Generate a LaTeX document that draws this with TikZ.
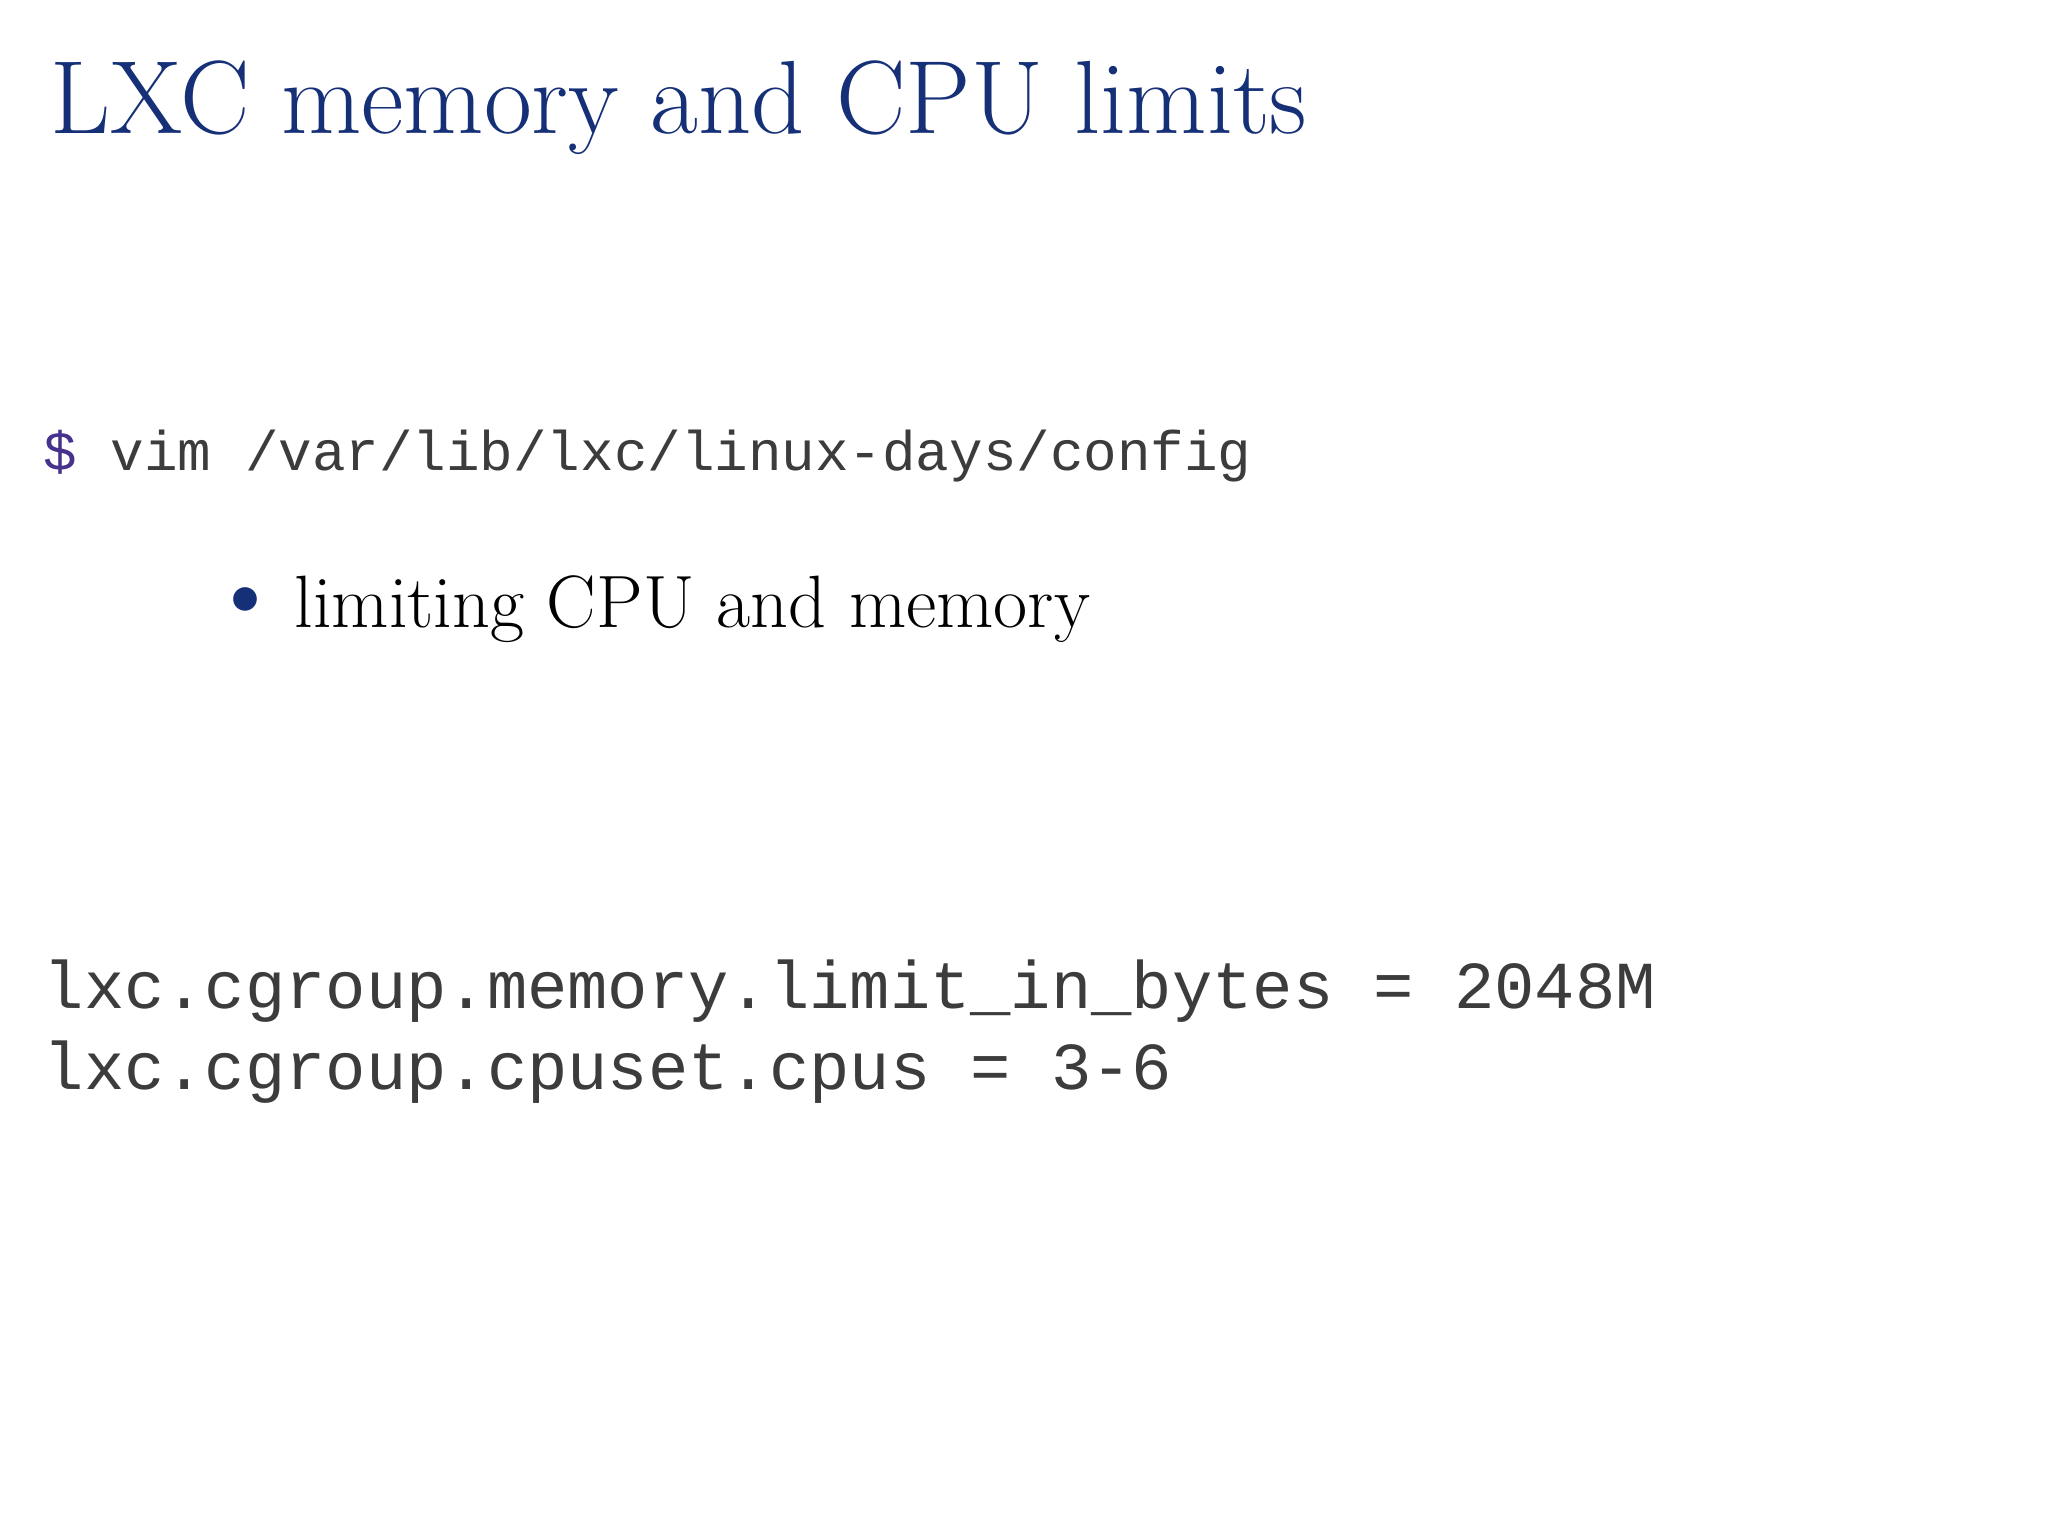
\documentclass[tikz,border=0pt]{standalone}
\usepackage{fontspec}
\newfontfamily\monof{Liberation Mono}
\definecolor{titleblue}{RGB}{22,48,120}
\definecolor{codegray}{RGB}{60,60,60}
\definecolor{dollar}{RGB}{70,50,140}
\tikzset{txt/.style={anchor=base west,inner sep=0pt}}
\begin{document}
\begin{tikzpicture}[x=0.01cm,y=-0.01cm]
\useasboundingbox[fill=white] (0,0) rectangle (2048,1536);
\node[txt,text=titleblue,font=\fontsize{29.6}{34}\selectfont] (title) at (50,133) {LXC memory and CPU limits};
\node[txt,font=\monof\fontsize{15.9}{18}\selectfont,text=codegray] (cmd) at (43,470) {\textcolor{dollar}{\$} vim /var/lib/lxc/linux-days/config};
\node[txt,text=titleblue,font=\fontsize{30}{34}\selectfont] (bul) at (207,627) {\textbullet};
\node[txt,font=\fontsize{21.1}{24}\selectfont] (item) at (294,627) {limiting CPU and memory};
\node[txt,font=\monof\fontsize{19.1}{22}\selectfont,text=codegray] (l1) at (43,1008) {lxc.cgroup.memory.limit\_in\_bytes = 2048M};
\node[txt,font=\monof\fontsize{19.1}{22}\selectfont,text=codegray] (l2) at (43,1089) {lxc.cgroup.cpuset.cpus = 3-6};
\end{tikzpicture}
\end{document}
